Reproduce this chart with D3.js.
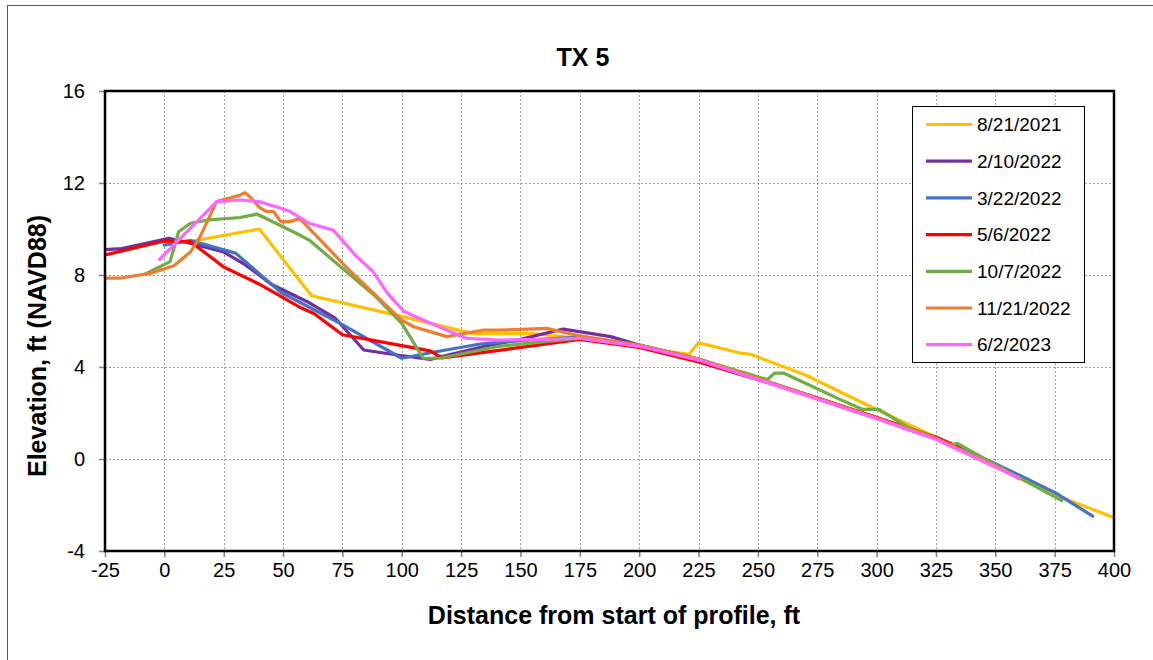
<!DOCTYPE html>
<html>
<head>
<meta charset="utf-8">
<script src="https://cdn.jsdelivr.net/npm/d3@7"></script>
<style>
  html, body { margin: 0; padding: 0; background: #fff; }
  svg { display: block; font-family: "Liberation Sans", Arial, sans-serif; }
</style>
</head>
<body>
<svg id="chart" width="1153" height="660"></svg>
<script>
// ---------------- DATA ----------------
const chartTitle = "TX 5";
const xAxisTitle = "Distance from start of profile, ft";
const yAxisTitle = "Elevation, ft (NAVD88)";
const xTicks = [-25, 0, 25, 50, 75, 100, 125, 150, 175, 200, 225, 250, 275, 300, 325, 350, 375, 400];
const yTicks = [-4, 0, 4, 8, 12, 16];
const seriesNames = ["8/21/2021", "2/10/2022", "3/22/2022", "5/6/2022", "10/7/2022", "11/21/2022", "6/2/2023"];

const s_2021_08_21 = [[2,9.4],[12,9.48],[40,10.0],[62,7.1],[100,6.2],[130,5.45],[155,5.45],[175,5.25],[200,4.85],[221,4.55],[225,5.05],[243,4.6],[247,4.55],[270,3.65],[300,2.15],[323,1.05],[350,-0.35],[375,-1.55],[400,-2.55]];
const s_2022_02_10 = [[-25,9.1],[-18,9.15],[2,9.6],[12,9.35],[25,9.0],[34,8.45],[45,7.6],[60,6.85],[72,6.12],[84,4.74],[98,4.52],[112,4.33],[135,4.9],[150,5.2],[168,5.65],[188,5.32],[200,4.95],[225,4.35],[250,3.5],[275,2.65],[300,1.8],[325,0.9],[350,-0.3]];
const s_2022_03_22 = [[0,9.3],[11,9.5],[30,8.95],[49,7.25],[74,5.9],[100,4.38],[112,4.62],[133,5.0],[150,5.15],[175,5.3],[200,4.95],[225,4.35],[250,3.5],[275,2.65],[300,1.78],[325,0.95],[350,-0.2],[375,-1.45],[391,-2.48]];
const s_2022_05_06 = [[-25,8.87],[0,9.48],[11,9.45],[25,8.35],[40,7.6],[57,6.6],[63,6.33],[75,5.4],[100,4.93],[112,4.7],[117,4.4],[141,4.72],[175,5.2],[200,4.85],[225,4.22],[250,3.45],[275,2.65],[300,1.8],[325,0.95],[335,0.5]];
const s_2022_10_07 = [[-8,8.05],[2.4,8.58],[6,9.88],[11,10.25],[19,10.4],[32,10.5],[39,10.65],[57,9.74],[61,9.52],[89,7.06],[100,5.9],[109,4.38],[116,4.38],[141,4.9],[175,5.25],[200,4.92],[225,4.35],[254,3.45],[257,3.73],[261,3.73],[285,2.57],[294,2.16],[301,2.16],[314,1.33],[322,1.04],[331,0.6],[334,0.68],[350,-0.25],[378,-1.81]];
const s_2022_11_21 = [[-25,7.86],[-19,7.86],[-6,8.07],[4,8.4],[11,9.0],[15,9.66],[22,11.19],[32,11.48],[34,11.58],[36,11.4],[40,10.94],[43,10.76],[46,10.76],[49,10.32],[53,10.32],[57,10.46],[61,10.03],[77,8.3],[100,6.04],[105,5.75],[119,5.32],[134,5.6],[141,5.6],[161,5.68],[175,5.35],[200,4.95],[225,4.35],[250,3.5],[275,2.65],[300,1.78],[325,0.9],[350,-0.3],[360,-0.85]];
const s_2023_06_02 = [[-2,8.68],[22,11.19],[32,11.26],[40,11.19],[49,10.9],[53,10.76],[61,10.25],[71,9.96],[81,8.8],[88,8.14],[94,7.2],[101,6.41],[109,6.04],[127,5.25],[141,5.17],[160,5.2],[175,5.25],[200,4.9],[225,4.3],[250,3.45],[275,2.6],[300,1.75],[325,0.85],[350,-0.35],[360,-0.84]];

const seriesValues = [s_2021_08_21, s_2022_02_10, s_2022_03_22, s_2022_05_06, s_2022_10_07, s_2022_11_21, s_2023_06_02];
const seriesColors = ["#FFC000", "#7030A0", "#4472C4", "#FF0000", "#70AD47", "#ED7D31", "#FF66FF"];

// ---------------- LAYOUT ----------------
const svg = d3.select("#chart");
const plot = { left: 105, right: 1114, top: 91, bottom: 551 };

const x = d3.scaleLinear().domain([-25, 400]).range([plot.left, plot.right]);
const y = d3.scaleLinear().domain([-4, 16]).range([plot.bottom, plot.top]);

// outer chart frame
svg.append("rect")
  .attr("x", 7.5).attr("y", 5.5).attr("width", 1170).attr("height", 680)
  .attr("fill", "#fff").attr("stroke", "#595959").attr("stroke-width", 1);

// gridlines
const grid = svg.append("g");
grid.selectAll("line.vg").data(xTicks.slice(1, -1)).join("line")
  .attr("x1", d => Math.round(x(d)) + 0.5).attr("x2", d => Math.round(x(d)) + 0.5)
  .attr("y1", plot.top).attr("y2", plot.bottom)
  .attr("stroke", "#a0a0a0").attr("stroke-width", 1).attr("stroke-dasharray", "2,2");
grid.selectAll("line.hg").data(yTicks.slice(1, -1)).join("line")
  .attr("y1", d => Math.round(y(d)) + 0.5).attr("y2", d => Math.round(y(d)) + 0.5)
  .attr("x1", plot.left).attr("x2", plot.right)
  .attr("stroke", "#a0a0a0").attr("stroke-width", 1).attr("stroke-dasharray", "2,2");

// axes
const fmt = d => String(d);
const xAxis = d3.axisBottom(x).tickValues(xTicks).tickSize(6).tickPadding(6).tickFormat(fmt);
const yAxis = d3.axisLeft(y).tickValues(yTicks).tickSize(6).tickPadding(14).tickFormat(fmt);

const gx = svg.append("g").attr("transform", `translate(0,${plot.bottom})`).call(xAxis);
const gy = svg.append("g").attr("transform", `translate(${plot.left},0)`).call(yAxis);
[gx, gy].forEach(g => {
  g.select(".domain").remove();
  g.selectAll(".tick line").attr("stroke", "#808080").attr("stroke-width", 1.5);
  g.selectAll(".tick text").attr("fill", "#000").style("font-size", "20px")
    .style("font-family", "'Liberation Sans', Arial, sans-serif");
});

// series lines
const line = d3.line().x(d => x(d[0])).y(d => y(d[1]));
svg.append("clipPath").attr("id", "clip").append("rect")
  .attr("x", plot.left).attr("y", plot.top).attr("width", plot.right - plot.left).attr("height", plot.bottom - plot.top);
svg.append("g").attr("clip-path", "url(#clip)")
  .selectAll("path").data(seriesValues).join("path")
  .attr("d", line)
  .attr("fill", "none")
  .attr("stroke", (d, i) => seriesColors[i])
  .attr("stroke-width", 3.2)
  .attr("stroke-linejoin", "round")
  .attr("stroke-linecap", "round");

// plot border
svg.append("rect")
  .attr("x", plot.left).attr("y", plot.top)
  .attr("width", plot.right - plot.left).attr("height", plot.bottom - plot.top)
  .attr("fill", "none").attr("stroke", "#000").attr("stroke-width", 2.5);

// title
svg.append("text").attr("x", 583).attr("y", 66).attr("text-anchor", "middle")
  .style("font-size", "25px").style("font-weight", "bold").text(chartTitle);

// axis titles
svg.append("text").attr("x", 614).attr("y", 624).attr("text-anchor", "middle")
  .style("font-size", "25px").style("font-weight", "bold").text(xAxisTitle);
svg.append("text").attr("transform", "translate(46,346) rotate(-90)").attr("text-anchor", "middle")
  .style("font-size", "25px").style("font-weight", "bold").text(yAxisTitle);

// legend
const lg = svg.append("g");
lg.append("rect").attr("x", 912.5).attr("y", 106.5).attr("width", 172).attr("height", 256)
  .attr("fill", "#fff").attr("stroke", "#000").attr("stroke-width", 1);
const items = lg.selectAll("g.item").data(seriesNames).join("g")
  .attr("transform", (d, i) => `translate(0,${124.5 + i * 36.7})`);
items.append("line").attr("x1", 926).attr("x2", 972).attr("y1", 0).attr("y2", 0)
  .attr("stroke", (d, i) => seriesColors[i]).attr("stroke-width", 3.2);
items.append("text").attr("x", 977).attr("y", 0).attr("dy", "0.35em")
  .style("font-size", "19px").text(d => d);
</script>
</body>
</html>
